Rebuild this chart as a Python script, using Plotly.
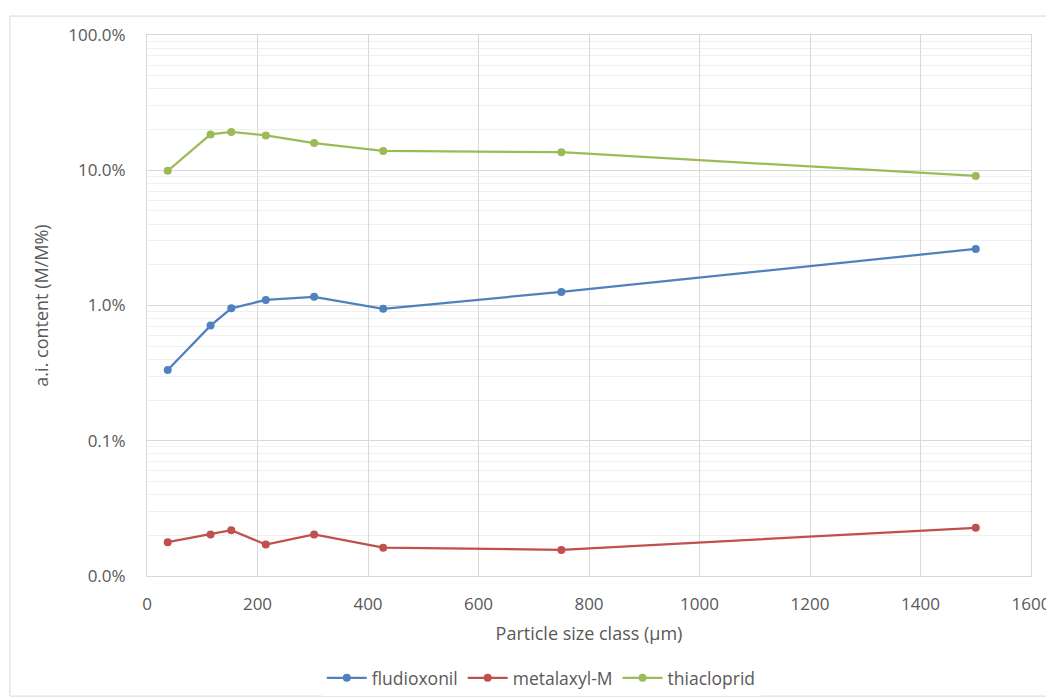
import plotly.graph_objects as go

particle_size = [37.5, 115, 152.5, 215, 302.5, 427.5, 750, 1500]
fludioxonil = [0.00333, 0.0071, 0.00953, 0.0110, 0.0116, 0.00946, 0.0126, 0.0262]
metalaxyl_m = [0.000178, 0.000203, 0.000218, 0.000171, 0.000203, 0.000162, 0.000156, 0.000227]
thiacloprid = [0.099, 0.184, 0.192, 0.181, 0.159, 0.139, 0.136, 0.0907]

series = [
    ("fludioxonil", fludioxonil, "#4F81BD"),
    ("metalaxyl-M", metalaxyl_m, "#C0504D"),
    ("thiacloprid", thiacloprid, "#9BBB59"),
]

fig = go.Figure()
for name, vals, col in series:
    fig.add_trace(go.Scatter(
        x=particle_size, y=vals, name=name, mode="lines+markers",
        line=dict(color=col, width=2.25),
        marker=dict(color=col, size=8),
    ))

minor_vals = [m * 10 ** e for e in range(-4, 0) for m in range(2, 10)]
font = "Open Sans, Noto Sans, sans-serif"
txt = "#595959"

# page has an 8px body margin, so the figure is 8px smaller than the window
fig.update_layout(
    width=1046, height=690,
    paper_bgcolor="white", plot_bgcolor="white",
    margin=dict(l=139, r=23, t=27, b=122),
    font=dict(family=font, color=txt, size=17),
    showlegend=True,
    legend=dict(orientation="h", x=0.446, xanchor="center",
                yref="container", y=0.029, yanchor="middle",
                font=dict(size=17.5, color=txt), itemwidth=40),
    xaxis=dict(
        range=[0, 1600], dtick=200, tick0=0, automargin=False,
        showgrid=True, gridcolor="#d9d9d9", gridwidth=1,
        showline=True, linecolor="#d9d9d9", linewidth=1, mirror=True,
        zeroline=False, ticks="", ticklabelstandoff=13,
        title=dict(text="Particle size class (µm)", font=dict(size=18, color=txt), standoff=12),
        tickfont=dict(size=17, color=txt),
    ),
    yaxis=dict(
        type="log", range=[-4, 0], dtick=1, tickformat=".1%", automargin=False,
        showgrid=True, gridcolor="#d9d9d9", gridwidth=1,
        showline=True, linecolor="#d9d9d9", linewidth=1, mirror=True,
        zeroline=False, ticks="", ticklabelstandoff=17,
        minor=dict(tickvals=minor_vals, showgrid=True, gridcolor="#f0f0f0", gridwidth=1, ticks=""),
        title=dict(text="a.i. content (M/M%)", font=dict(size=18, color=txt), standoff=14),
        tickfont=dict(size=17, color=txt),
    ),
)

fig.add_shape(type="rect", xref="paper", yref="paper",
              x0=-0.155, x1=1.024, y0=-0.222, y1=1.035,
              line=dict(color="#d9d9d9", width=1), layer="below")

fig.write_html("out.html")
